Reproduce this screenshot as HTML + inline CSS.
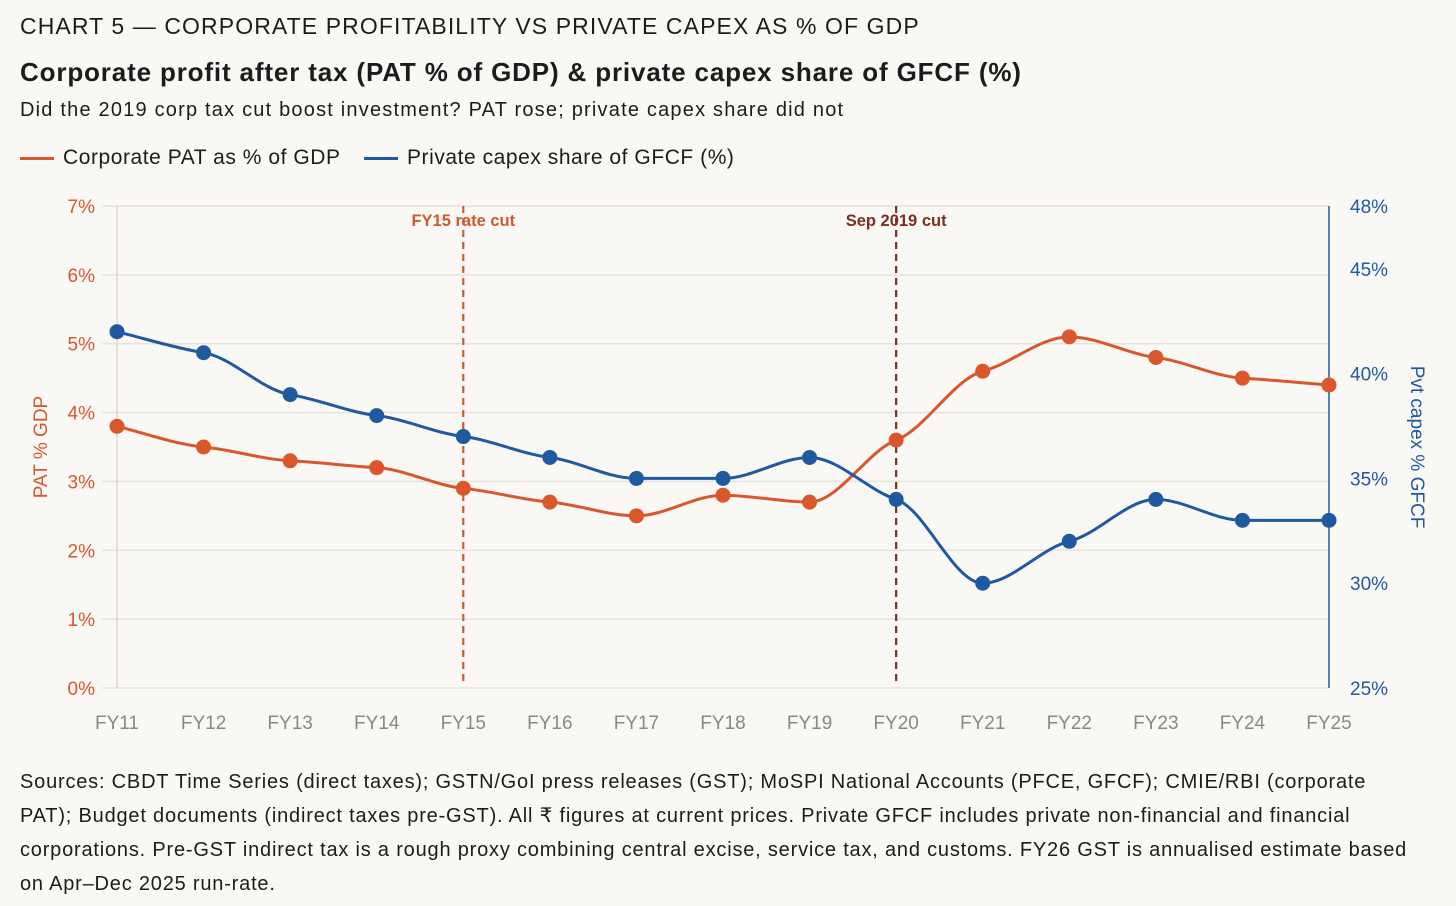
<!DOCTYPE html>
<html><head><meta charset="utf-8">
<style>
body{margin:0;background:#faf8f5;font-family:"Liberation Sans",sans-serif;color:#1c1c1c;width:1456px;height:906px;overflow:hidden;position:relative}
.t1{position:absolute;left:20px;top:13px;font-size:23px;letter-spacing:1.1px}
.t2{position:absolute;left:20px;top:57px;font-size:26px;font-weight:bold;letter-spacing:0.85px}
.t3{position:absolute;left:20px;top:99px;font-size:20px;letter-spacing:1.2px}
.leg{position:absolute;top:146px;font-size:21px;display:flex;align-items:center;letter-spacing:0.55px}
.leg i{display:inline-block;width:34px;height:3px;margin-right:9px}
.src{position:absolute;left:20px;top:765px;width:1395px;font-size:20px;line-height:34px;letter-spacing:0.8px}
svg{position:absolute;left:0;top:0}
</style></head><body>
<div class="t1">CHART 5 — CORPORATE PROFITABILITY VS PRIVATE CAPEX AS % OF GDP</div>
<div class="t2">Corporate profit after tax (PAT % of GDP) &amp; private capex share of GFCF (%)</div>
<div class="t3">Did the 2019 corp tax cut boost investment? PAT rose; private capex share did not</div>
<div class="leg" style="left:20px"><i style="background:#d9572b"></i>Corporate PAT as % of GDP</div>
<div class="leg" style="left:364px"><i style="background:#1f5aa0"></i>Private capex share of GFCF (%)</div>
<svg id="c" width="1456" height="760"></svg>
<div class="src">Sources: CBDT Time Series (direct taxes); GSTN/GoI press releases (GST); MoSPI National Accounts (PFCE, GFCF); CMIE/RBI (corporate PAT); Budget documents (indirect taxes pre-GST). All ₹ figures at current prices. Private GFCF includes private non-financial and financial corporations. Pre-GST indirect tax is a rough proxy combining central excise, service tax, and customs. FY26 GST is annualised estimate based on Apr–Dec 2025 run-rate.</div>
<script>
const categories=["FY11","FY12","FY13","FY14","FY15","FY16","FY17","FY18","FY19","FY20","FY21","FY22","FY23","FY24","FY25"];
const patValues=[3.8,3.5,3.3,3.2,2.9,2.7,2.5,2.8,2.7,3.6,4.6,5.1,4.8,4.5,4.4];
const capexValues=[42,41,39,38,37,36,35,35,36,34,30,32,34,33,33];
const leftTicks=[0,1,2,3,4,5,6,7];
const rightTicks=[25,30,35,40,45,48];
const annotations=[{cat:"FY15",label:"FY15 rate cut",color:"#cf5a2e"},{cat:"FY20",label:"Sep 2019 cut",color:"#7d2f1c"}];
const NS="http://www.w3.org/2000/svg",svg=document.getElementById('c');
const X0=117,X1=1329,YT=206,YB=688;
const x=i=>X0+(X1-X0)*i/(categories.length-1);
const yl=v=>YB-(YB-YT)*v/7;
const yr=v=>YB-(YB-YT)*(v-25)/23;
function mk(t,a,p){const e=document.createElementNS(NS,t);for(const k in a)e.setAttribute(k,a[k]);(p||svg).appendChild(e);return e;}
leftTicks.forEach(v=>{
 const g=mk('line',{x1:102,x2:X1,y1:yl(v),y2:yl(v),stroke:'#e6e3de','stroke-width':1.5});
 
 const t=mk('text',{x:95,y:yl(v)+7,'text-anchor':'end','font-size':19,fill:'#d9572b'});t.textContent=v+'%';
 
});
rightTicks.forEach(v=>{
 const t=mk('text',{x:1350,y:yr(v)+7,'font-size':19,fill:'#1f5aa0'});t.textContent=v+'%';
 
});
mk('line',{x1:X0,x2:X0,y1:YT,y2:YB,stroke:'#dcd9d4','stroke-width':1.5});
mk('line',{x1:X1,x2:X1,y1:YT,y2:YB,stroke:'#1f5aa0','stroke-width':1.5});
categories.forEach((c,i)=>{
 const t=mk('text',{x:x(i),y:729,'text-anchor':'middle','font-size':19,fill:'#888'});t.textContent=c;
 
});
let t=mk('text',{transform:'translate(47,447) rotate(-90)','text-anchor':'middle','font-size':19,fill:'#d9572b'});t.textContent='PAT % GDP';

t=mk('text',{transform:'translate(1411,447) rotate(90)','text-anchor':'middle','font-size':19,fill:'#1f5aa0'});t.textContent='Pvt capex % GFCF';

annotations.forEach(a=>{
 const i=categories.indexOf(a.cat);
 const l=mk('line',{x1:x(i),x2:x(i),y1:YT,y2:684,stroke:a.color,'stroke-width':2.2,'stroke-dasharray':'7,5'});
 
 const tt=mk('text',{x:x(i),y:226,'text-anchor':'middle','font-size':16.5,'font-weight':'bold',fill:a.color});tt.textContent=a.label;
 
});
function mono(pts){
 const n=pts.length,d=[],m=[];
 for(let i=0;i<n-1;i++)d.push((pts[i+1][1]-pts[i][1])/(pts[i+1][0]-pts[i][0]));
 for(let i=0;i<n;i++){
  if(i==0)m.push(d[0]);else if(i==n-1)m.push(d[n-2]);
  else m.push(d[i-1]*d[i]<=0?0:3/((2/d[i-1]+1/d[i])+(1/d[i-1]+2/d[i])));
 }
 let p='M'+pts[0][0]+','+pts[0][1];
 for(let i=0;i<n-1;i++){const h=(pts[i+1][0]-pts[i][0])/3;
  p+=' C'+(pts[i][0]+h)+','+(pts[i][1]+m[i]*h)+' '+(pts[i+1][0]-h)+','+(pts[i+1][1]-m[i+1]*h)+' '+pts[i+1][0]+','+pts[i+1][1];}
 return p;
}
function series(vals,yf,col,name){
 const pts=vals.map((v,i)=>[x(i),yf(v)]);
 const p=mk('path',{d:mono(pts),fill:'none',stroke:col,'stroke-width':3});
 
 pts.forEach(q=>{const c=mk('circle',{cx:q[0],cy:q[1],r:7.5,fill:col});
  });
}
series(patValues,yl,'#d9572b','pat');
series(capexValues,yr,'#1f5aa0','capex');
</script>
</body></html>
